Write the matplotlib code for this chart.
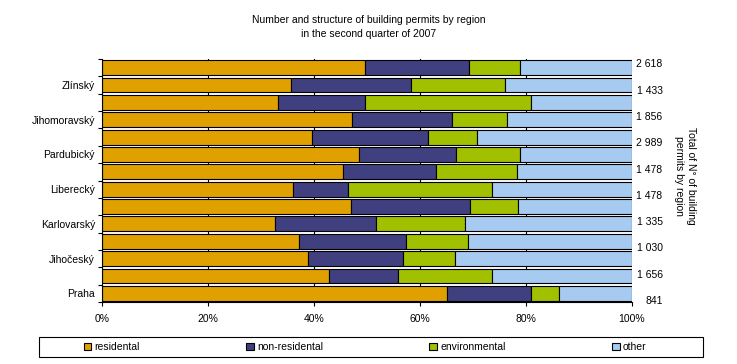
import numpy as np
import matplotlib
matplotlib.use("Agg")
import matplotlib.pyplot as plt
from matplotlib.patches import Patch, Rectangle

# regions from bottom (Praha) to top
regions = ["Praha", "Středočeský", "Jihočeský", "Plzeňský", "Karlovarský", "Ústecký",
           "Liberecký", "Královéhradecký", "Pardubický", "Vysočina", "Jihomoravský",
           "Olomoucký", "Zlínský", "Moravskoslezský"]

# shares in %
residental = [65.0, 42.9, 38.8, 37.1, 32.7, 46.9, 36.1, 45.4, 48.4, 39.7, 47.1, 33.2, 35.6, 49.7]
non_residental = [16.0, 12.9, 17.9, 20.2, 19.0, 22.5, 10.4, 17.6, 18.4, 21.9, 18.9, 16.4, 22.7, 19.5]
environmental = [5.2, 17.7, 9.9, 11.7, 16.8, 9.1, 27.1, 15.3, 12.1, 9.1, 10.4, 31.4, 17.7, 9.7]
other = [100 - a - b - c for a, b, c in zip(residental, non_residental, environmental)]

# totals shown on the right axis (bottom to top)
totals = ["841", "1 656", "1 030", "1 335", "1 478", "1 478", "2 989", "1 856", "1 433", "2 618"]

series = [("residental", residental, "#E0A000"),
          ("non-residental", non_residental, "#404080"),
          ("environmental", environmental, "#A0C000"),
          ("other", other, "#A6CAF0")]

plt.rcParams['font.family'] = ['Liberation Sans', 'DejaVu Sans']
plt.rcParams['font.size'] = 7.5

fig = plt.figure(figsize=(7.37, 3.64), dpi=100)
ax = fig.add_axes([102 / 737, 1 - 302 / 364, 530 / 737, 243 / 364])

y = np.arange(len(regions))
left = np.zeros(len(regions))
for name, vals, col in series:
    ax.barh(y, vals, left=left, height=0.86, color=col, edgecolor="black", linewidth=0.8, label=name)
    left += np.array(vals)

ax.set_xlim(0, 100)
ax.set_ylim(-0.5, len(regions) - 0.5)
ax.set_xticks(np.arange(0, 101, 20))
ax.set_xticklabels([f"{v}%" for v in range(0, 101, 20)])
ax.tick_params(axis="x", direction="out", length=3, width=0.8, pad=6)

# region labels: every other one, like the original
ax.set_yticks(y[::2])
ax.set_yticklabels(regions[::2])
ax.tick_params(axis="y", which="major", length=0, pad=5)
ax.set_yticks(np.arange(-0.5, len(regions), 1), minor=True)
ax.tick_params(axis="y", which="minor", direction="out", length=3, width=0.8)

ax.set_axisbelow(True)
ax.grid(axis="x", color="black", linewidth=0.8)
for s in ["top", "right"]:
    ax.spines[s].set_visible(False)
ax.spines["left"].set_linewidth(0.8)
ax.spines["bottom"].set_linewidth(0.8)

# right axis with totals
ax2 = ax.twinx()
step = 26.3
ax2.set_ylim(-2 / step, 241 / step)
ax2.set_yticks(np.arange(len(totals)))
ax2.set_yticklabels(totals, ha="right")
ax2.tick_params(axis="y", length=0, pad=22)
for s in ax2.spines.values():
    s.set_visible(False)
ax2.set_ylabel("Total of N° of building\npermits by region", rotation=270, labelpad=30)
ax2.yaxis.set_label_coords(1 + 64 / 530, (364 - 176 - 62) / 243)

fig.suptitle("Number and structure of building permits by region\nin the second quarter of 2007",
             y=1 - 15 / 364, fontsize=7.5, linespacing=1.5)

# legend box + entries
fig.patches.append(Rectangle((39 / 737, 1 - 357 / 364), 664 / 737, 20 / 364,
                             transform=fig.transFigure, facecolor="white",
                             edgecolor="black", linewidth=0.8, zorder=0))
handles = [Patch(facecolor=c, edgecolor="black", linewidth=0.8, label=n) for n, v, c in series]
fig.legend(handles=handles, loc="center", ncol=4, frameon=False,
           bbox_to_anchor=(365 / 737, 1 - 347 / 364),
           handlelength=0.75, handleheight=0.75, handletextpad=0.3, columnspacing=10.2)

fig.savefig("out.png", dpi=100)
